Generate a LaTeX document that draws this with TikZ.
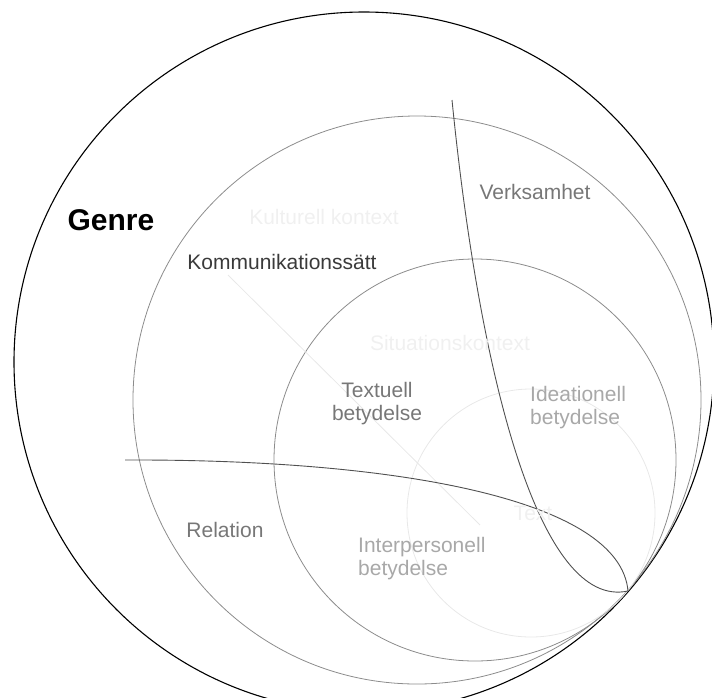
\documentclass[tikz,border=0pt]{standalone}
\usepackage{fontspec}
\setmainfont{Liberation Sans}
\definecolor{ringgray}{HTML}{8C8C8C}
\definecolor{palering}{HTML}{E8E8E8}
\definecolor{linegray}{HTML}{505050}
\definecolor{darklabel}{HTML}{3A3A3A}
\definecolor{midlabel}{HTML}{777777}
\definecolor{lightlabel}{HTML}{A8A8A8}
\definecolor{ghostlabel}{HTML}{F0F0F0}
\begin{document}
\begin{tikzpicture}[x=1pt,y=-1pt,
	ring/.style={draw=ringgray, line width=.8pt},
	divider/.style={draw=linegray, line width=.9pt},
	lbl/.style={font=\fontsize{21}{23}\selectfont, inner sep=0pt, align=center}]
	\useasboundingbox (0,0) rectangle (712,697);
	\clip (0,0) rectangle (712,697);
	% all circles touch in one point down right
	\coordinate (touch) at (628,591);
	\draw[line width=1.1pt] (364,362) circle (350pt);
	\draw[ring] (417,400) circle (284pt);
	\draw[ring] (475,460) circle (201pt);
	\draw[draw=palering, line width=.8pt] (531,513) circle (124pt);
	\draw[draw=palering, line width=.8pt] (228,275) -- (480,525);
	% the two dividers, both ending in the touch point
	\draw[divider] (452,100) .. controls (480,380) and (540,610) .. (touch);
	\draw[divider] (125,460) .. controls (400,459) and (620,500) .. (touch);
	% labels
	\node[font=\fontsize{30}{32}\selectfont\bfseries, inner sep=0pt] (genre) at (111,220) {Genre};
	\node[lbl, text=ghostlabel] (kultur) at (324,217) {Kulturell kontext};
	\node[lbl, text=darklabel] (kommunikation) at (282,262) {Kommunikationssätt};
	\node[lbl, text=midlabel] (verksamhet) at (535,192) {Verksamhet};
	\node[lbl, text=ghostlabel] (situation) at (450,343) {Situationskontext};
	\node[lbl, text=midlabel] (textuell) at (377,404) {Textuell\\betydelse};
	\node[lbl, text=lightlabel, align=left, anchor=west] (ideationell) at (530,408) {Ideationell\\betydelse};
	\node[lbl, text=midlabel] (relation) at (225,530) {Relation};
	\node[lbl, text=lightlabel, align=left, anchor=west] (interpersonell) at (358,559) {Interpersonell\\betydelse};
	\node[lbl, text=ghostlabel] (text) at (533,513) {Text};
\end{tikzpicture}
\end{document}
